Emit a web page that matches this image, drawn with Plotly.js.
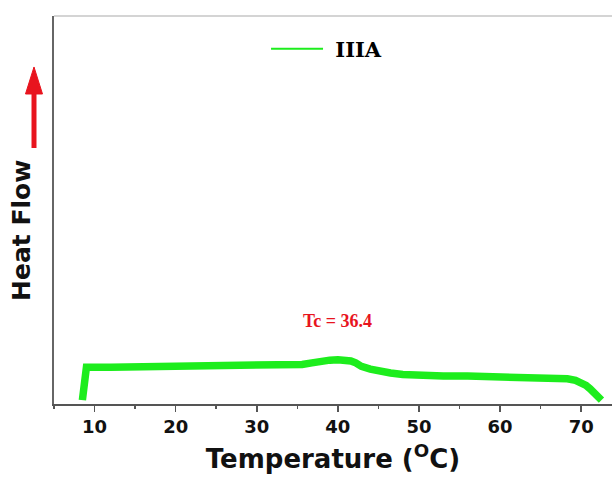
<!DOCTYPE html>
<html>
<head>
<meta charset="utf-8">
<script src="https://cdn.plot.ly/plotly-3.0.1.min.js"></script>
<style>html,body{margin:0;padding:0;background:#fff;}#chart{width:612px;height:478px;}</style>
</head>
<body>
<div id="chart"></div>
<script>
// Temperature (°C) and heat flow (arbitrary units)
const temperature = [8.5, 9.0, 12, 16, 20, 25, 30, 33, 34.8, 35.6, 36.8, 38.0, 39.0, 40.0, 41.0, 41.6, 42.2, 42.9, 44.0, 45.0, 46.5, 48.0, 50.0, 53, 56, 60, 64.3, 66.5, 68.3, 69.3, 70.0, 70.6, 71.1, 71.6, 72.0, 72.5];
const heatFlow    = [1.0, 9.5, 9.5, 9.6, 9.6, 9.7, 9.7, 9.8, 9.9, 10.2, 10.6, 11.1, 11.3, 11.4, 11.3, 11.1, 10.6, 9.7, 9.0, 8.5, 8.0, 7.6, 7.3, 7.2, 7.2, 7.1, 7.0, 6.8, 6.5, 6.1, 5.6, 4.8, 3.9, 3.0, 2.1, 1.0];
const seriesName = "\u00a0IIIA";
const xTickVals = [10, 20, 30, 40, 50, 60, 70];
const xTickText = ["10", "20", "30", "40", "50", "60", "70"];
const tcLabel = "Tc = 36.4";
const yTitle = "Heat Flow";

const green = "#1ded1d";
const red = "#e8141e";

const traces = [
  {x: temperature, y: heatFlow, type: "scatter", mode: "lines", showlegend: false,
   line: {color: green, width: 7.5}, hoverinfo: "skip"},
  {x: [null], y: [null], type: "scatter", mode: "lines", name: seriesName,
   line: {color: green, width: 2}}
];

const layout = {
  width: 612, height: 478,
  margin: {l: 54, r: 0, t: 16, b: 74, pad: 0},
  paper_bgcolor: "#fff", plot_bgcolor: "#fff",
  showlegend: true,
  legend: {x: 0.38, y: 0.915, xanchor: "left", yanchor: "middle", bgcolor: "rgba(0,0,0,0)",
           borderwidth: 0, itemwidth: 52,
           font: {family: "DejaVu Serif", size: 21, color: "#000", weight: "bold"}},
  xaxis: {
    range: [5, 73.8], showgrid: false, zeroline: false,
    showline: true, linecolor: "#555", linewidth: 1.5,
    tickvals: xTickVals, ticktext: xTickText,
    ticks: "outside", ticklen: 6, tickwidth: 1.5, tickcolor: "#555",
    minor: {dtick: 5, tick0: 0, ticks: "outside", ticklen: 3, tickwidth: 1.5, tickcolor: "#555"},
    ticklabelstandoff: 0,
    tickfont: {family: "DejaVu Sans", size: 18, color: "#111", weight: "bold"},
    title: {text: "Temperature (<sup>O</sup>C)", standoff: 13,
            font: {family: "DejaVu Sans", size: 26, color: "#111", weight: "bold"}},
    automargin: false
  },
  yaxis: {
    range: [0, 100], showgrid: false, zeroline: false,
    showline: true, linecolor: "#666", linewidth: 2,
    ticks: "", showticklabels: false,
    automargin: false
  },
  shapes: [
    {type: "line", xref: "paper", yref: "paper", x0: 0, x1: 1, y0: 1, y1: 1,
     line: {color: "#d4d4d4", width: 2}},
    {type: "line", xref: "paper", yref: "paper", x0: -0.03584, x1: -0.03584, y0: 0.6598, y1: 0.80,
     line: {color: red, width: 5}},
    {type: "path", xref: "paper", yref: "paper",
     path: "M -0.03584,0.8686 L -0.05108,0.799 L -0.02061,0.799 Z",
     fillcolor: red, line: {color: red, width: 1}}
  ],
  annotations: [
    {x: 40, y: 21.5, xref: "x", yref: "y", text: tcLabel, showarrow: false,
     font: {family: "Liberation Serif", size: 18, color: red, weight: "bold"}},
    {x: -0.0573, y: 0.446, xref: "paper", yref: "paper", text: yTitle, showarrow: false,
     textangle: -90, xanchor: "center", yanchor: "middle",
     font: {family: "DejaVu Sans", size: 25, color: "#111", weight: "bold"}}
  ]
};

Plotly.newPlot("chart", traces, layout, {displayModeBar: false, staticPlot: true});
</script>
</body>
</html>
